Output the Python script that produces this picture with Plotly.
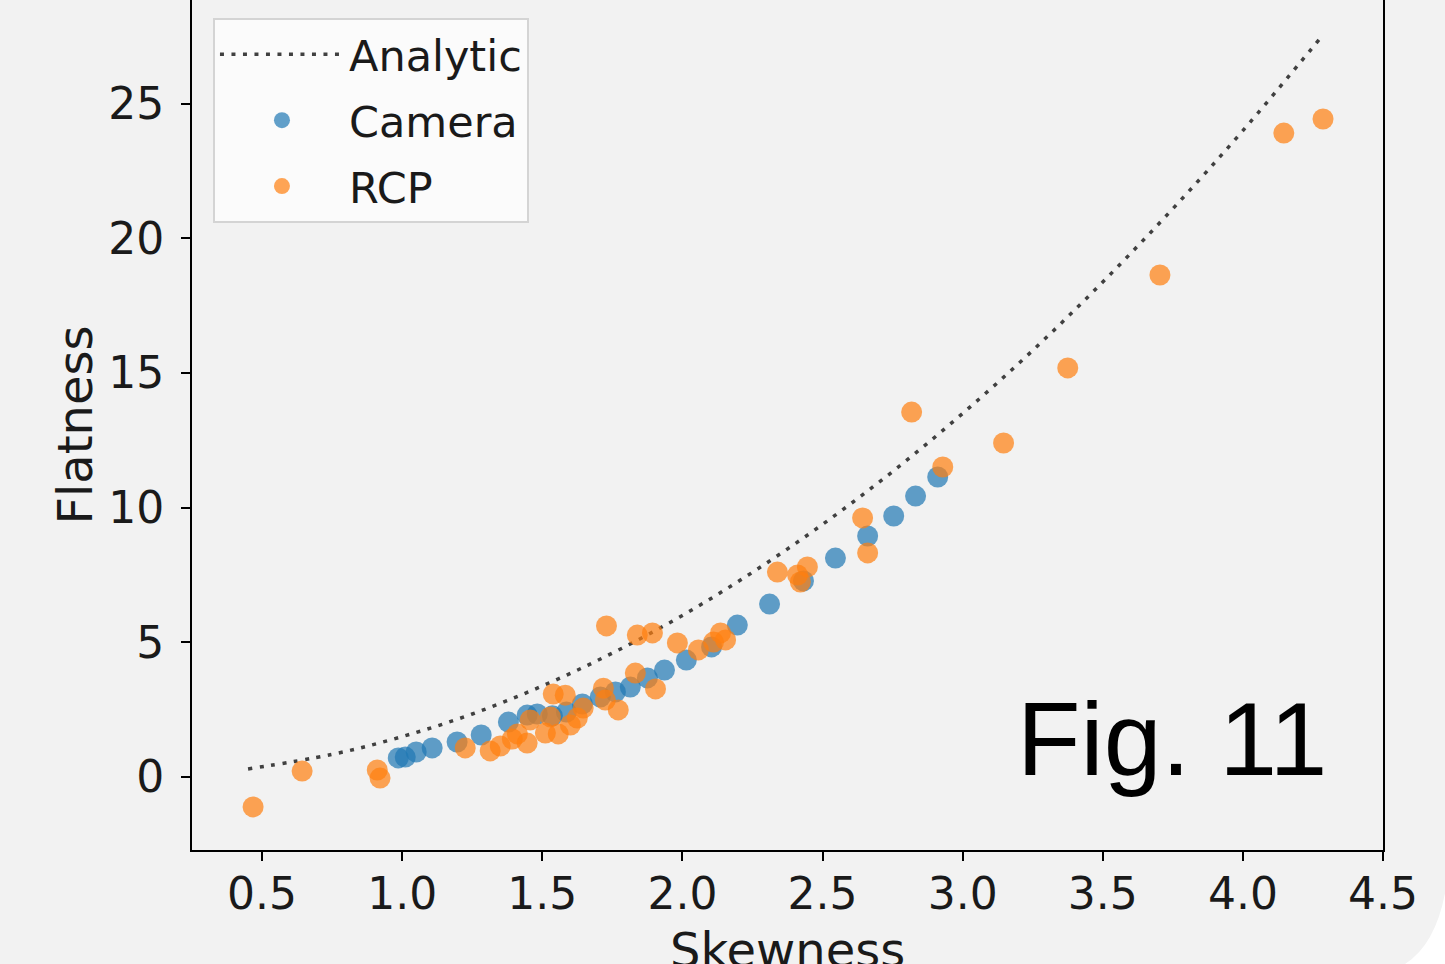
import plotly.graph_objects as go

# Analytic curve
analytic_s = [0.45, 0.75, 1.0, 1.25, 1.5, 1.75, 2.0, 2.25, 2.5, 2.75, 3.0, 3.25, 3.5, 3.75, 4.0, 4.28]
analytic_f = [0.30, 0.84, 1.5, 2.34, 3.38, 4.6, 6.0, 7.6, 9.38, 11.34, 13.5, 15.84, 18.38, 21.1, 24.0, 27.48]

# Camera data
camera_s = [0.986, 1.011, 1.05, 1.107, 1.196, 1.282, 1.379, 1.446, 1.482, 1.536, 1.586, 1.643,
            1.707, 1.761, 1.814, 1.875, 1.936, 2.014, 2.104, 2.196, 2.311, 2.432, 2.546, 2.661,
            2.754, 2.832, 2.911]
camera_f = [0.71, 0.74, 0.93, 1.08, 1.30, 1.56, 2.04, 2.30, 2.34, 2.27, 2.41, 2.71,
            2.97, 3.16, 3.34, 3.68, 3.97, 4.34, 4.83, 5.64, 6.42, 7.28, 8.13, 8.95,
            9.69, 10.43, 11.14]

# RCP data
rcp_s = [0.468, 0.643, 0.911, 0.921, 1.225, 1.314, 1.35, 1.393, 1.411, 1.446, 1.457, 1.511,
         1.529, 1.557, 1.539, 1.582, 1.60, 1.625, 1.646, 1.718, 1.725, 1.771, 1.729, 1.832,
         1.839, 1.893, 1.904, 1.982, 2.057, 2.111, 2.136, 2.154, 2.339, 2.411, 2.446, 2.421,
         2.643, 2.661, 2.818, 2.929, 3.146, 3.375, 3.704, 4.146, 4.286]
rcp_f = [-1.11, 0.22, 0.26, -0.04, 1.08, 0.97, 1.15, 1.41, 1.60, 1.26, 2.12, 1.63,
         2.23, 1.60, 3.08, 3.04, 1.93, 2.19, 2.56, 3.30, 2.86, 2.49, 5.61, 3.86,
         5.27, 5.35, 3.27, 4.98, 4.72, 5.01, 5.35, 5.09, 7.61, 7.50, 7.80, 7.24,
         9.62, 8.32, 13.55, 11.51, 12.40, 15.19, 18.64, 23.91, 24.43]

x_ticks = [0.5, 1.0, 1.5, 2.0, 2.5, 3.0, 3.5, 4.0, 4.5]
y_ticks = [0, 5, 10, 15, 20, 25]

BG = "#f2f2f2"
FONT = "DejaVu Sans"

fig = go.Figure()
fig.add_trace(go.Scatter(
    x=analytic_s, y=analytic_f, mode="lines", name="Analytic", legendgroup="a",
    line=dict(color="#404040", width=3.5, dash="4px,7.5px", shape="spline"),
))
fig.add_trace(go.Scatter(
    x=camera_s, y=camera_f, mode="markers", name="Camera", legendgroup="b",
    marker=dict(color="#1f77b4", size=21, opacity=0.7, line=dict(width=0)),
))
fig.add_trace(go.Scatter(
    x=rcp_s, y=rcp_f, mode="markers", name="RCP", legendgroup="c",
    marker=dict(color="#ff7f0e", size=21, opacity=0.7, line=dict(width=0)),
))

axis_common = dict(
    showgrid=False, zeroline=False, showline=True, linecolor="black", linewidth=2,
    ticks="outside", ticklen=9, tickwidth=2, tickcolor="black",
    tickfont=dict(family=FONT, size=44, color="#1a1a1a"),
    automargin=False,
)

fig.update_layout(
    width=1445, height=964,
    margin=dict(l=192, r=62, t=0, b=114),
    paper_bgcolor=BG, plot_bgcolor=BG,
    font=dict(family=FONT, color="#1a1a1a"),
    xaxis=dict(
        range=[0.25, 4.5], tickvals=x_ticks, ticktext=[f"{v:.1f}" for v in x_ticks],
        mirror=False, ticklabelstandoff=-5, **axis_common,
    ),
    yaxis=dict(
        range=[-2.71, 28.85], tickvals=y_ticks, ticktext=[str(v) for v in y_ticks],
        title=dict(text="Flatness", font=dict(family=FONT, size=48), standoff=0),
        mirror=True, ticklabelstandoff=8, **axis_common,
    ),
    legend=dict(
        x=0.0176, y=0.979, xanchor="left", yanchor="top",
        bgcolor="rgba(252,252,252,0.9)", bordercolor="#d4d4d4", borderwidth=2,
        font=dict(family=FONT, size=43, color="#1a1a1a"),
        itemsizing="trace", itemwidth=124, tracegroupgap=7,
    ),
    showlegend=True,
)

# x-axis title (placed so it runs past the bottom edge, as in the source)
fig.add_annotation(
    text="Skewness", xref="paper", yref="paper", x=0.5, y=-0.0824,
    xanchor="center", yanchor="top", showarrow=False,
    font=dict(family=FONT, size=48, color="#1a1a1a"),
)

fig.add_annotation(
    text="Fig. 11", xref="paper", yref="paper", x=0.955, y=0.131,
    xanchor="right", yanchor="middle", showarrow=False,
    font=dict(family="Liberation Sans", size=104, color="black"),
)

# white page corner at bottom-right
fig.add_shape(
    type="path", xref="paper", yref="paper", layer="above",
    path="M 1.0521 -0.0506 Q 1.0437 -0.1118 1.0185 -0.1341 L 1.0521 -0.1341 Z",
    fillcolor="white", line=dict(width=0),
)

fig.write_html(
    "out.html",
    config={"displayModeBar": False},
    post_script="document.body.style.margin='0';document.body.style.overflow='hidden';",
)
